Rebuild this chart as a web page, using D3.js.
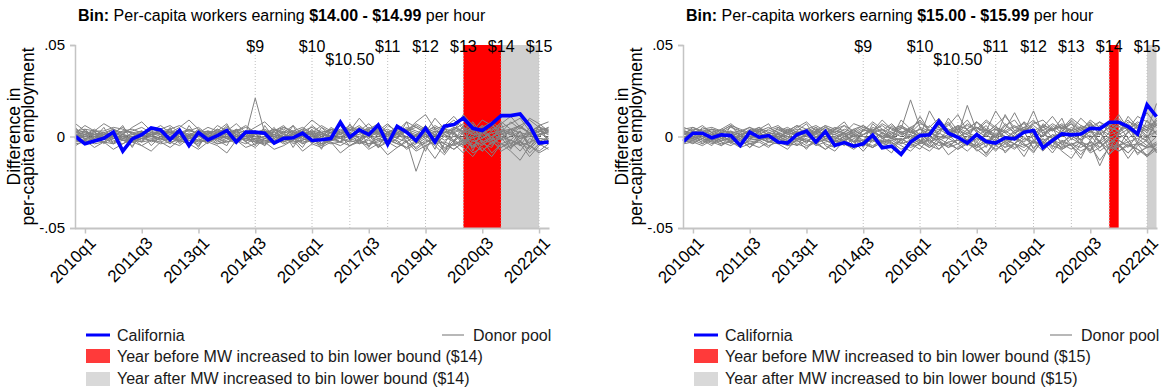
<!DOCTYPE html>
<html>
<head>
<meta charset="utf-8">
<script src="https://cdn.jsdelivr.net/npm/d3@7/dist/d3.min.js"></script>
<style>
  html, body { margin: 0; padding: 0; background: #fff; }
  svg { display: block; font-family: "Liberation Sans", Arial, Helvetica, sans-serif; }
</style>
</head>
<body>
<svg id="chart" width="1165" height="392"></svg>
<script>
// Quarterly time axis (2009q4 .. 2022q2)
const quarters = [
  "2009q4",
  "2010q1","2010q2","2010q3","2010q4",
  "2011q1","2011q2","2011q3","2011q4",
  "2012q1","2012q2","2012q3","2012q4",
  "2013q1","2013q2","2013q3","2013q4",
  "2014q1","2014q2","2014q3","2014q4",
  "2015q1","2015q2","2015q3","2015q4",
  "2016q1","2016q2","2016q3","2016q4",
  "2017q1","2017q2","2017q3","2017q4",
  "2018q1","2018q2","2018q3","2018q4",
  "2019q1","2019q2","2019q3","2019q4",
  "2020q1","2020q2","2020q3","2020q4",
  "2021q1","2021q2","2021q3","2021q4",
  "2022q1","2022q2"
];
const xTickLabels = ["2010q1","2011q3","2013q1","2014q3","2016q1","2017q3","2019q1","2020q3","2022q1"];
const yTickValues = [-0.05, 0, 0.05];
const yTickLabels = ["-.05", "0", ".05"];

// California minimum wage steps and the quarter each took effect
const mwLabels   = ["$9", "$10", "$10.50", "$11", "$12", "$13", "$14", "$15"];
const mwQuarters = ["2014q3", "2016q1", "2017q1", "2018q1", "2019q1", "2020q1", "2021q1", "2022q1"];

// Values below are in thousandths of per-capita employment (x 1e-3)

// Bin $14.00 - $14.99
const california14 = [
  0,-4,-2.5,-1,2.4,-8,-1.3,1,4.7,3.6,
  -1.8,3.3,-4.9,2.2,-1.8,0.5,3.3,-3,2.4,2.4,
  1.8,-3.6,-1,-0.7,1.8,-2.2,-1.8,-1.1,7.8,-0.4,
  3.6,1,6.3,-4.3,5.6,2.4,-2.2,4.5,-3,5.6,
  6.5,10.1,4.5,3.3,6.9,11.4,11.4,12.3,6,-3.6,-3
];
const donors14 = [
  [7,3,0,-1,2,1,-2,0,1,3, 2,0,-1,1,2,3,1,0,-1,2, 3,1,0,-2,1,3,2,0,1,4, 2,1,3,0,2,5,3,1,-1,2, 4,1,-3,-1,2,3,1,0,2,1,3],
  [-2,-3,-1,0,-2,-4,-1,-3,-2,0, -1,-3,-2,-4,-1,-2,0,-3,-1,-2, -3,-1,-4,-2,0,-3,-5,-2,-1,-3, -2,-4,-1,-3,-6,-2,-19,-5,-3,-8, -4,-2,-6,-3,-1,-4,-2,-5,-3,-1,-2],
  [1,2,0,-1,1,3,2,0,1,2, 3,1,0,2,1,4,2,3,1,21, 2,1,3,0,2,1,3,2,4,1, 0,2,3,1,4,2,0,1,3,2, 5,3,1,2,0,3,4,2,1,3,2],
  [-1,0,2,1,-1,0,1,2,4,3, 1,0,-1,2,3,1,0,-2,1,0, 2,4,1,0,3,1,-1,5,2,3, 6,2,4,1,3,8,5,2,10,4, 3,12,6,2,4,5,7,10,3,5,4],
  [3,4,3,3,5,4,2,3,1,2, 0,-1,1,0,2,-1,0,1,-2,-1, 0,1,-1,2,0,-2,1,0,-1,2, 1,3,0,-1,2,-3,1,0,-2,3, 1,-2,0,3,-4,1,2,-1,0,3,1],
  [0,-1,-2,-1,0,-2,-3,-1,0,-1, -2,0,-1,-3,-2,0,-1,-2,-4,-1, -2,-3,0,-1,-4,-2,-1,-3,-5,-2, -4,-1,-6,-3,-2,-7,-4,-1,-5,-10, -3,-6,-11,-4,-2,-8,-5,-3,-7,-2,-4],
  [2,1,3,2,4,2,3,5,2,3, 4,6,3,2,5,3,1,4,2,3, 1,3,5,2,4,2,6,3,1,4, 2,5,3,7,2,4,6,3,5,2, 4,7,3,5,8,4,2,6,9,5,3],
  [-3,-2,-4,-3,-1,-2,-3,-5,-2,-3, -1,-2,-4,-2,-3,-1,-3,-2,-1,-3, -2,-4,-1,-3,-2,0,-2,-4,-3,-1, -3,-5,-2,-4,-1,-3,-6,-2,-4,-3, -5,-2,-4,-8,-3,-6,-2,-4,-11,-5,-3],
  [1,-1,0,2,-1,1,0,-2,1,3, 2,0,4,1,-1,2,5,1,0,2, 3,0,2,6,1,3,0,4,2,0, 3,1,5,2,-1,3,0,2,4,1, -2,3,8,1,5,-1,3,6,2,0,4],
  [-1,-2,0,-1,-3,-1,-2,0,-1,-2, 0,2,-1,0,-2,1,-1,0,2,-3, -1,0,-2,1,-1,-3,0,2,-1,0, -2,1,-1,-3,2,0,-2,1,-4,0, 2,-3,-1,1,-5,0,-2,3,-6,-1,-2],
  [0,1,2,0,1,-1,0,2,3,1, 2,3,1,0,2,1,3,2,0,1, 3,2,4,1,3,5,2,0,3,6, 3,4,1,6,3,2,7,4,1,5, 9,4,2,6,3,7,11,5,2,6,8],
  [4,2,1,0,-1,1,0,-1,2,0, -1,1,0,-2,0,2,-1,1,0,-1, 0,-2,1,-1,0,2,-1,0,-3,1, -1,0,2,-2,1,-1,-3,0,1,-2, 0,-1,3,-3,0,2,-4,-1,1,-3,0],
  [-2,0,1,-1,0,-2,-1,1,0,-1, 1,-1,2,0,1,-1,0,2,3,0, -1,1,0,3,-2,0,1,-1,2,0, 4,0,-2,2,5,-1,1,3,-2,1, 3,-4,2,6,-2,1,4,-3,5,2,-1],
  [-4,-3,-2,-3,-4,-2,-3,-1,-2,-4, -3,-2,-1,-3,-2,-4,-3,-1,-2,-3, -4,-2,-3,-1,-3,-2,-4,-2,-3,-5, -2,-4,-3,-1,-4,-6,-3,-5,-2,-4, -7,-3,-5,-2,-9,-4,-6,-3,-5,-8,-4],
  [1,0,-1,1,2,0,-1,1,2,1, 0,-2,1,3,0,-1,2,0,-1,1, 2,0,-1,1,3,0,2,-1,0,2, -1,3,1,-2,0,4,2,-1,3,0, -3,2,5,-1,2,-2,0,3,-4,1,2],
  [2,3,1,2,0,3,4,2,1,2, 3,2,4,1,3,2,4,3,5,2, 1,4,2,3,5,2,1,4,3,2, 5,3,2,4,1,3,5,2,6,3, 2,5,1,4,6,3,1,5,2,4,3],
  [5,-2,3,-4,1,6,-3,2,-5,0, 4,-3,6,-1,-4,3,7,-2,1,-5, 6,-1,3,-6,2,-4,5,0,-3,7, -2,4,-6,3,-1,8,-4,2,-7,5, -3,6,-8,4,-2,7,-5,3,-6,1,5],
  [-3,4,-1,5,-4,2,-6,3,0,-2, 5,-4,1,-6,3,-2,-5,4,-3,2, -5,3,-2,6,-4,1,-7,4,-1,-3, 5,-6,2,-4,6,-3,1,-8,3,-9, 2,-5,7,-4,-6,3,-7,1,-4,6,-3],
  [2,6,3,7,4,1,5,8,3,6, 2,5,9,4,1,6,3,7,2,5, 8,3,6,1,4,9,5,2,7,3, 10,4,7,2,5,3,8,12,4,6, 11,5,3,9,6,2,8,4,10,7,3],
  [-5,-2,-6,-3,-7,-4,-1,-5,-8,-3, -6,-2,-4,-7,-3,-5,-9,-2,-6,-4, -3,-7,-5,-2,-8,-4,-6,-3,-9,-5, -2,-7,-4,-10,-6,-3,-8,-5,-12,-4, -7,-3,-9,-6,-11,-4,-8,-13,-5,-9,-6],
  [0,3,-2,1,4,-1,2,-3,5,1, -2,3,0,4,-3,1,6,-1,3,-2, 0,5,-3,2,-1,4,-4,1,6,-2, 3,-1,5,-5,2,4,-3,6,0,-4, 5,2,-6,3,8,-2,4,-5,2,6,-3],
  [-1,-4,0,-3,2,-2,-5,1,-3,-1, -4,0,-2,-5,1,-3,-1,-4,2,-2, -5,0,-3,-1,-6,2,-4,-2,0,-5, -3,1,-6,-2,-4,0,-7,-3,-1,-6, -4,-9,-2,-5,0,-6,-3,-8,-1,-4,-7],
  [3,1,4,0,2,5,1,3,0,4, 6,2,3,5,1,4,0,3,6,2, 4,1,5,3,0,6,2,4,1,5, 3,7,2,0,5,3,1,6,-2,4, 7,2,5,-1,3,8,4,6,1,3,5],
  [-2,1,-3,-1,-4,0,-2,-3,1,-1, -3,-5,-1,-2,0,-4,-2,1,-3,-6, -1,-3,2,-4,-2,0,-5,-1,-3,2, -4,-2,-5,1,-3,-6,-2,-4,1,-7, -2,-5,0,-8,-3,-1,-6,-2,-9,-4,-1]
];
const before14 = ["2020q1", "2021q1"];
const after14  = ["2021q1", "2022q1"];

// Bin $15.00 - $15.99
const california15 = [
  -2.7,1.8,1.8,-0.7,0.9,0.5,-4.9,2.4,-0.4,0.5,
  -3,-3.6,1.1,2.9,-3,2.7,-4.9,-3.3,-5.3,-4,
  0.7,-6.2,-5.3,-9.8,-3,0.5,0.9,8.3,1.8,-0.4,
  -3.6,1,-2.7,-3.6,-0.7,-1.3,2.4,3.3,-6.2,-2.2,
  1.4,0.9,1.4,4.5,4.2,7.8,7.8,5.4,1.4,17.4,10.9
];
const donors15 = [
  [2,4,3,1,2,5,3,2,4,1, 3,5,2,4,6,3,1,4,2,5, 3,6,2,4,20,5,3,7,2,4, 6,3,8,4,2,5,7,3,6,4, 5,8,3,6,4,7,5,9,4,6,8],
  [-2,-3,-1,-4,-2,-3,-5,-2,-1,-3, -4,-2,-3,-1,-5,-3,-2,-4,-6,-3, -2,-5,-3,-7,-4,-2,-6,-3,-5,-2, -4,-7,-11,-5,-3,-6,-4,-8,-3,-5, -7,-4,-6,-3,-16,-5,-8,-4,-7,-10,-6],
  [0,1,-1,2,0,-2,1,3,0,-1, 2,0,-2,1,3,-1,0,2,-3,1, 4,-1,2,0,5,1,-2,3,8,1, 17,3,0,5,2,-2,4,1,6,-1, 3,7,0,4,-3,2,6,-1,3,5,2],
  [3,2,4,5,3,6,4,2,3,5, 2,4,1,3,5,2,4,6,3,1, 5,3,7,2,4,9,3,5,2,6, 4,8,3,14,6,2,5,9,3,7, 4,10,6,3,8,5,12,4,7,3,18],
  [-1,0,-2,-1,1,-3,0,-1,-2,0, -3,-1,0,-2,-4,-1,-3,0,-2,-5, -1,-3,-6,-2,0,-4,-1,-7,-3,-2, -5,-1,-3,-8,-2,-4,0,-6,-3,-9, -2,-5,-10,-3,-6,-1,-4,-12,-5,-2,-8],
  [1,3,2,0,4,1,2,5,3,1, 0,2,4,3,1,5,2,0,3,6, 2,4,1,6,3,0,14,5,2,4, 1,5,3,0,7,2,4,1,5,3, 6,2,4,8,1,5,3,7,2,4,6],
  [-3,-2,-4,-1,-3,-5,-2,-4,-6,-3, -1,-4,-2,-5,-3,-7,-4,-2,-5,-3, -6,-3,-1,-4,-2,-5,-8,-3,-6,-4, -2,-6,-3,-7,-4,-1,-5,-3,-8,-2, -4,-7,-3,-5,-13,-6,-4,-9,-3,-6,-5],
  [0,-1,1,0,2,-1,-2,1,0,2, 1,-1,3,0,-2,2,1,-1,4,0, -2,2,0,3,-1,1,4,-2,0,3, 1,-3,2,4,0,-2,3,14,1,-1, 2,4,-2,3,1,5,-1,2,6,0,3],
  [4,5,3,4,2,3,1,2,4,3, 5,3,6,4,2,5,3,1,4,6, 3,7,4,2,5,8,3,6,4,2, 7,4,9,5,3,6,2,8,5,11, 4,7,3,9,5,6,10,4,8,5,7],
  [-1,-2,0,-3,-1,-2,-4,0,-1,-3, -2,0,-1,-3,0,-2,-4,-1,-3,-2, 0,-4,-2,-1,-5,-3,0,-2,-6,-1, -3,-5,-2,0,-4,-7,-1,-3,-5,-2, -6,-1,-4,-8,-3,-10,-2,-5,-7,-11,-4],
  [2,0,1,3,1,0,2,-1,1,0, -1,1,2,0,3,1,-2,2,0,1, 3,0,-1,2,1,4,2,-1,3,0, 2,5,1,-2,3,0,4,2,-3,1, 0,3,5,-1,2,-4,1,4,0,-2,3],
  [-4,-3,-5,-2,-4,-3,-6,-4,-2,-5, -3,-5,-4,-6,-3,-2,-5,-4,-7,-3, -5,-2,-4,-3,-6,-4,-2,-5,-3,-7, -4,-6,-3,-5,-8,-4,-6,-2,-5,-3, -6,-4,-8,-5,-3,-7,-5,-9,-4,-6,-3],
  [1,2,0,1,-1,2,3,1,0,2, 4,2,1,3,0,2,5,3,1,4, 2,0,3,5,2,4,1,3,6,12, 3,5,2,0,4,13,3,6,2,4, 7,3,5,2,6,4,8,3,5,13,6],
  [-2,-1,-3,0,-2,-1,0,-3,-2,-1, 0,-2,-1,1,-3,0,-1,-2,1,-2, -3,1,-1,-2,0,2,-3,-1,1,-4, 0,-2,1,-3,-1,2,-2,0,-4,1, -3,0,-2,1,-6,-1,2,-3,-1,-5,0],
  [3,1,2,4,3,2,0,3,5,2, 1,3,0,2,4,1,3,2,0,3, 4,2,5,1,3,0,2,4,1,5, 2,0,4,1,-1,3,5,2,0,4, 1,5,2,-2,4,1,3,6,2,-1,9],
  [0,-1,1,-2,0,1,-1,0,2,-1, 1,0,-2,1,2,-1,0,-3,1,0, -1,2,0,-2,1,-3,2,0,-1,1, -2,1,-4,2,0,-1,-3,1,-2,0, 2,-5,-1,3,-4,0,-2,-6,1,-3,-8],
  [4,-1,5,2,-3,6,1,-2,4,7, -1,3,6,0,5,-2,4,8,1,-3, 7,2,-1,9,4,-3,6,1,10,3, -2,8,4,-1,6,9,2,-4,7,3, 10,-2,6,4,-3,8,2,11,5,-1,7],
  [-3,2,-4,0,-5,1,-2,-6,-1,-3, 2,-5,-2,-7,0,-4,-6,1,-3,-8, -2,-5,-9,-1,-4,-7,0,-3,-10,-6, -2,-8,-5,1,-9,-4,-11,-2,-6,-3, -8,-12,-4,-7,-2,-10,-5,-3,-9,-6,-4],
  [1,5,2,-1,3,6,0,4,2,-2, 5,1,3,7,-1,4,2,6,0,3, 8,4,-1,5,2,11,3,7,1,4, 9,2,6,-1,12,3,8,4,0,6, 2,9,4,7,1,5,3,8,6,2,10],
  [-4,0,-2,-5,1,-3,-1,-6,-2,0, -4,-7,-1,-3,2,-5,-8,-2,0,-4, -6,-1,-3,-9,-2,0,-5,-7,-1,-4, -8,-3,-10,-2,-6,0,-4,-9,-1,-7, -3,-5,-12,-2,-8,-4,-6,-1,-10,-5,-7],
  [2,-2,1,4,-1,3,-3,2,5,0, -2,4,1,-4,3,6,-1,2,-5,4, 1,-3,6,2,-2,5,-4,3,7,-1, 4,-5,2,6,-3,1,8,-2,4,-6, 5,1,-4,7,3,-7,2,6,-3,9,1],
  [-1,3,0,-2,2,-4,1,-1,3,-3, 0,2,-5,1,-2,4,-3,0,2,-6, 3,-1,1,-4,5,-2,-5,2,-1,6, -3,2,-6,4,-1,-4,3,-7,1,5, -5,2,-2,-8,4,-1,-6,3,-4,1,-9],
  [5,3,6,2,4,7,3,5,1,4, 6,2,5,8,3,6,4,2,7,5, 3,9,4,6,2,7,5,10,3,6, 4,8,2,6,11,5,3,7,9,4, 6,3,10,5,8,2,7,4,11,8,5],
  [-2,-4,-1,-3,-5,-2,0,-4,-3,-6, -1,-3,-5,-2,-4,-7,-2,-5,-1,-4, -6,-3,-2,-5,-8,-3,-6,-1,-4,-7, -3,-5,-9,-2,-6,-4,-8,-3,-5,-1, -7,-4,-3,-9,-6,-2,-8,-5,-4,-11,-7]
];
const before15 = ["2021q1", "2021q2"];
const after15  = ["2022q1", "2022q2"];

const UNIT = 1e-3;

const panels = [
  { x0: 75,  bin: "$14.00 - $14.99", bound: "$14", ca: california14, donors: donors14, before: before14, after: after14 },
  { x0: 683, bin: "$15.00 - $15.99", bound: "$15", ca: california15, donors: donors15, before: before15, after: after15 }
];

const svg = d3.select("#chart");
const FONT = '"Liberation Sans", Arial, Helvetica, sans-serif';
const C = {
  blue: "#0000ff", donor: "#828282", red: "#ff0000", after: "#d0d0d0",
  axis: "#c4c4c4", vline: "#bfbfbf", zero: "#555555", text: "#000000",
  legRed: "#ff3a3a", legGray: "#d9d9d9"
};

const plotTop = 45, plotBottom = 228, plotW = 473;

// text measuring helper for staggering the wage labels
const measurer = svg.append("text").attr("font-size", 16).attr("font-family", FONT).attr("visibility", "hidden");
function textWidth(s) { measurer.text(s); return measurer.node().getComputedTextLength(); }

panels.forEach(p => {
  const g = svg.append("g");
  const x = d3.scalePoint().domain(quarters).range([p.x0 + 0.5, p.x0 + plotW + 0.5]);
  const y = d3.scaleLinear().domain([-0.05, 0.05]).range([plotBottom, plotTop]);

  // title
  const title = g.append("text").attr("x", p.x0 + 3).attr("y", 21)
    .attr("font-size", 16).attr("fill", C.text);
  title.append("tspan").attr("font-weight", "bold").text("Bin:");
  title.append("tspan").text(" Per-capita workers earning ");
  title.append("tspan").attr("font-weight", "bold").text(p.bin);
  title.append("tspan").text(" per hour");

  // shaded years around the bin's lower bound
  [[p.before, C.red], [p.after, C.after]].forEach(([span, col]) => {
    g.append("rect")
      .attr("x", x(span[0])).attr("y", y(0.05))
      .attr("width", x(span[1]) - x(span[0]))
      .attr("height", y(-0.05) - y(0.05))
      .attr("fill", col);
  });

  // minimum-wage step markers; labels that would collide drop to a second row
  const rows = [];
  const labelRows = mwLabels.map((lab, i) => {
    const cx = x(mwQuarters[i]);
    const w = textWidth(lab);
    let r = 0;
    while (rows[r] !== undefined && rows[r] > cx - w / 2 - 1) r++;
    rows[r] = cx + w / 2;
    return r;
  });
  mwLabels.forEach((lab, i) => {
    const cx = x(mwQuarters[i]);
    const base = 52 + labelRows[i] * 13;
    g.append("line")
      .attr("x1", cx).attr("x2", cx)
      .attr("y1", base + 3).attr("y2", plotBottom)
      .attr("stroke", C.vline).attr("stroke-width", 1)
      .attr("stroke-dasharray", "1,2");
  });

  // zero reference line
  g.append("line")
    .attr("x1", p.x0).attr("x2", p.x0 + plotW + 1)
    .attr("y1", y(0)).attr("y2", y(0))
    .attr("stroke", C.zero).attr("stroke-width", 1).attr("stroke-dasharray", "4,3");

  // donor pool series
  const line = d3.line().x((d, i) => x(quarters[i])).y(d => y(d * UNIT));
  g.append("g").selectAll("path").data(p.donors).join("path")
    .attr("d", line)
    .attr("fill", "none").attr("stroke", C.donor).attr("stroke-width", 1);

  // California
  g.append("path").datum(p.ca).attr("d", line)
    .attr("fill", "none").attr("stroke", C.blue).attr("stroke-width", 3.6)
    .attr("stroke-linejoin", "miter").attr("stroke-miterlimit", 3);

  // wage labels on top
  mwLabels.forEach((lab, i) => {
    g.append("text").attr("x", x(mwQuarters[i])).attr("y", 52 + labelRows[i] * 13)
      .attr("text-anchor", "middle").attr("font-size", 16).attr("fill", C.text)
      .text(lab);
  });

  // y axis
  const yAxis = d3.axisLeft(y).tickValues(yTickValues)
    .tickFormat((d, i) => yTickLabels[i]).tickSize(5).tickPadding(5);
  const ya = g.append("g").attr("transform", `translate(${p.x0},0)`).call(yAxis);
  ya.select(".domain").attr("stroke", C.axis).attr("stroke-width", 1.5);
  ya.selectAll(".tick line").attr("stroke", C.axis).attr("stroke-width", 1.5);
  ya.selectAll(".tick text").attr("font-size", 15).attr("font-family", FONT).attr("fill", C.text);

  // x axis
  const xAxis = d3.axisBottom(x).tickValues(xTickLabels).tickSize(5).tickSizeOuter(0).tickFormat(d => d);
  const xa = g.append("g").attr("transform", `translate(0,${plotBottom + 0.5})`).call(xAxis);
  xa.select(".domain").attr("stroke", C.axis).attr("stroke-width", 2)
    .attr("d", `M${p.x0},0H${p.x0 + plotW + 1.5}`);
  xa.selectAll(".tick line").attr("stroke", C.axis).attr("stroke-width", 1.5);
  xa.selectAll(".tick text")
    .attr("font-size", 17).attr("font-family", FONT).attr("fill", C.text)
    .attr("text-anchor", "end").attr("y", 0).attr("dy", "0.71em")
    .attr("transform", "translate(3,7) rotate(-45)");

  // y-axis title
  const ty = (plotTop + plotBottom) / 2;
  [["Difference in", p.x0 - 55], ["per-capita employment", p.x0 - 41]].forEach(([t, bx]) => {
    g.append("text").attr("transform", `translate(${bx},${ty}) rotate(-90)`)
      .attr("text-anchor", "middle").attr("font-size", 17.5).attr("fill", C.text).text(t);
  });

  // legend
  const lx = p.x0 + 11;
  const lg = g.append("g").attr("font-size", 16).attr("fill", "#1a1a1a");
  lg.append("line").attr("x1", lx).attr("x2", lx + 24).attr("y1", 335).attr("y2", 335)
    .attr("stroke", C.blue).attr("stroke-width", 3);
  lg.append("text").attr("x", lx + 31).attr("y", 341).text("California");
  lg.append("line").attr("x1", lx + 356).attr("x2", lx + 378).attr("y1", 335).attr("y2", 335)
    .attr("stroke", "#a0a0a0").attr("stroke-width", 1.5);
  lg.append("text").attr("x", lx + 387).attr("y", 341).text("Donor pool");
  lg.append("rect").attr("x", lx).attr("y", 349).attr("width", 24).attr("height", 14).attr("fill", C.legRed);
  lg.append("text").attr("x", lx + 31).attr("y", 362).text(`Year before MW increased to bin lower bound (${p.bound})`);
  lg.append("rect").attr("x", lx).attr("y", 372).attr("width", 24).attr("height", 14).attr("fill", C.legGray);
  lg.append("text").attr("x", lx + 31).attr("y", 384).text(`Year after MW increased to bin lower bound (${p.bound})`);
});
measurer.remove();
</script>
</body>
</html>
